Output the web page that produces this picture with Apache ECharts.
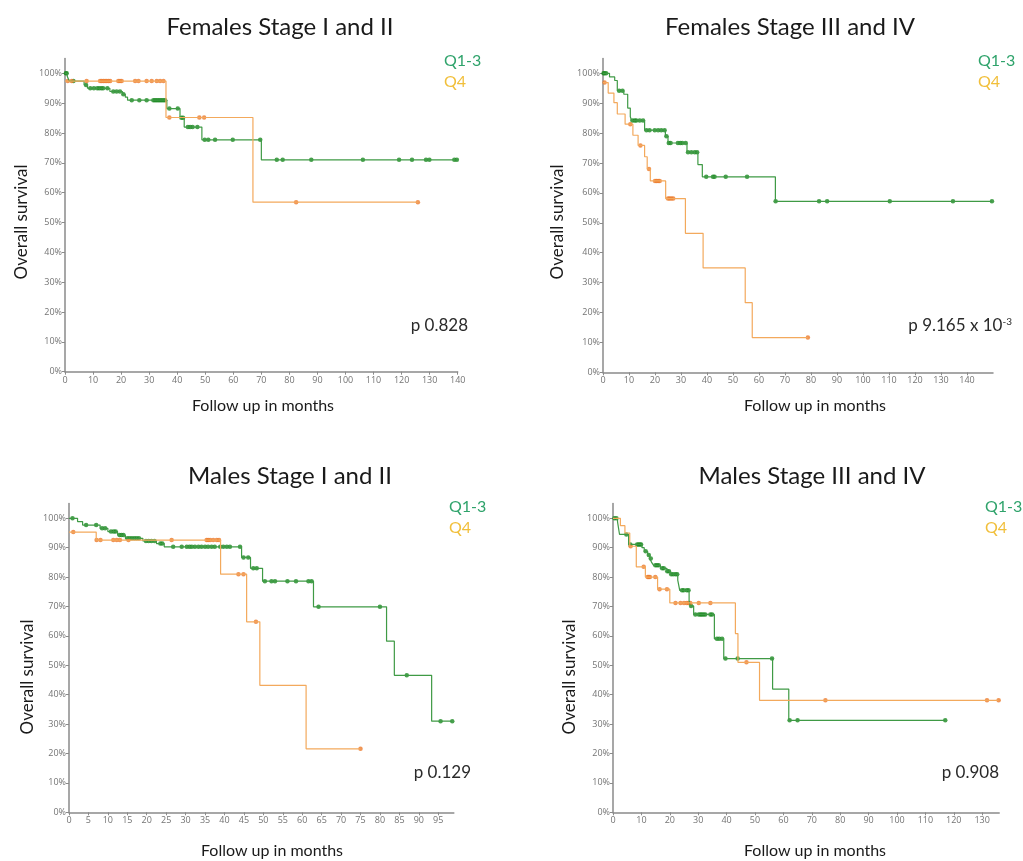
<!DOCTYPE html>
<html>
<head>
<meta charset="utf-8">
<title>Overall survival by stage and sex</title>
<script src="https://cdn.jsdelivr.net/npm/echarts@6/dist/echarts.min.js"></script>
<style>
  html, body { margin: 0; padding: 0; background: #fff; }
  #chart { width: 1023px; height: 861px; }
</style>
</head>
<body>
<div id="chart"></div>
<script>
// 刻度
const yTicks = [0, 10, 20, 30, 40, 50, 60, 70, 80, 90, 100];
const xTicks140 = [0, 10, 20, 30, 40, 50, 60, 70, 80, 90, 100, 110, 120, 130, 140];
const xTicks95 = [0, 5, 10, 15, 20, 25, 30, 35, 40, 45, 50, 55, 60, 65, 70, 75, 80, 85, 90, 95];
const xTicks130 = [0, 10, 20, 30, 40, 50, 60, 70, 80, 90, 100, 110, 120, 130];

const titles = ['Females Stage I and II', 'Females Stage III and IV', 'Males Stage I and II', 'Males Stage III and IV'];
const pValues = ['p 0.828', 'p 9.165 x 10', 'p 0.129', 'p 0.908'];

// Females Stage I and II  —  [月, 生存率%]
const femEarlyQ13Steps = [[0,100],[0.8,99.0],[1.5,97.4],[6.8,96.1],[8,95.0],[16,93.9],[20.5,93.0],[21.5,92.0],[22.3,91.0],[36.3,88.2],[41,85.1],[42.5,82.0],[48.8,77.7],[70,71.0],[140,71.0]];
const femEarlyQ13Censor = [0.3,0.6,3,7.5,9,10.3,11.5,12.2,13,13.6,15.1,17.2,18.4,19.6,20.8,23.8,26.5,29.1,31.5,32.1,32.7,33.3,33.9,34.5,35.1,35.7,37.2,40.2,41.5,42.1,43.8,44.6,45.5,47.2,49.8,51.1,53.5,59.8,69.6,75.5,77.6,87.8,106.2,119.1,123.7,128.7,129.9,138.8,139.7];
const femEarlyQ4Steps = [[0,97.4],[36,85.2],[67,56.8],[126,56.8]];
const femEarlyQ4Censor = [1,2.4,7.7,12.5,13.1,13.7,14.3,14.9,15.5,16.1,19,19.6,20.2,25,26.2,29.1,30.9,32.7,33.9,35.1,37.2,47.9,49.6,82.4,125.8];

// Females Stage III and IV
const femLateQ13Steps = [[0,100],[2.5,98.8],[4.5,97.6],[5.5,94.2],[8,93.0],[9.5,88.4],[10.5,85.5],[11,84.2],[16,81.0],[24,79.0],[25,76.7],[32.3,73.6],[36.5,69.5],[38.2,65.4],[66.3,57.2],[149.6,57.2]];
const femLateQ13Censor = [0.2,0.6,1.2,6.2,7.5,11.3,12.2,12.8,14.1,15.4,16.7,17.9,19.9,21.2,22.4,23.7,24.4,25.3,26,28.8,29.7,30.5,31.8,32.7,34,35.3,36.2,39.7,42.3,42.9,47.2,55.4,66.4,83.1,86.2,110.3,134.6,149.6];
const femLateQ4Steps = [[0,96.9],[2,93.4],[4.2,90.2],[5.5,86.4],[8.5,83.0],[11.5,79.3],[13.5,75.9],[16,72.1],[17,68.0],[18.2,64.0],[24.1,58.1],[31.7,46.5],[38.5,34.9],[54.7,23.3],[57.4,11.6],[78.8,11.6]];
const femLateQ4Censor = [0.6,10.5,14.4,17.7,20,20.6,21.2,21.8,25,25.6,26.3,27,78.8];

// Males Stage I and II
const maleEarlyQ13Steps = [[0,100],[2.2,98.9],[3.5,97.7],[8,96.6],[10,95.5],[12.5,94.3],[14.5,93.2],[19,92.3],[22.5,91.4],[24.5,90.3],[44.4,86.7],[46.7,83.0],[49.8,78.6],[62.9,69.9],[81.7,58.2],[83.7,46.6],[93.3,31.0],[98.6,31.0]];
const maleEarlyQ13Censor = [0.9,4.4,7,8.5,9.3,10.8,11.5,12,13,13.5,14,15,15.6,16.2,16.8,17.4,18,19.8,20.5,21.2,22,23.5,24,26.8,29,30.3,31,31.6,32.4,33.3,34.1,35,35.8,36.7,37.5,38.9,39.7,40.6,41.4,44,44.9,46.1,47.4,48.3,50.4,52.1,53,56.2,58.4,61.6,62.4,64.2,80,86.9,95.6,98.6];
const maleEarlyQ4Steps = [[0,95.3],[7,92.6],[39,81.0],[45.7,64.8],[49.1,43.2],[61,21.6],[75,21.6]];
const maleEarlyQ4Censor = [1.1,7.1,8.1,11.4,12.3,13.1,15.3,26.4,35.4,35.8,36.3,37.1,38,38.6,43.6,44.9,48.1,75];

// Males Stage III and IV
const maleLateQ13Steps = [[0,100],[1.6,98.8],[2.3,94.5],[5.5,91.1],[10.2,90.0],[11,88.8],[12.2,87.5],[13,86.3],[13.6,85.0],[14.3,84.0],[16.7,83.0],[19,82.0],[20.2,81.0],[22.8,79.0],[23.5,75.5],[26.8,72.0],[27.2,70.2],[28.4,67.3],[35.7,59.0],[39,52.3],[56.2,41.9],[61.9,31.3],[117,31.3]];
const maleLateQ13Censor = [0.5,1.2,4.7,6.1,8.5,9,9.5,9.9,11.5,12.6,13.3,14.9,15.5,16.1,17.3,17.9,19.1,19.7,20.5,21.2,22,22.6,24.3,24.9,26,26.6,27.5,29,30.2,30.8,31.3,31.9,32.5,34.3,34.9,36.6,37.4,38.4,39.6,43.9,56,62.2,65,117];
const maleLateQ4Steps = [[0,100],[2.6,97.5],[4.2,95.0],[5.9,90.5],[8.2,83.5],[11.4,80.0],[15.7,75.9],[20,71.2],[43.1,60.8],[44,51.0],[51.6,38.1],[135.8,38.1]];
const maleLateQ4Censor = [6.2,10.8,12.2,12.6,13,14.9,16.4,19,22,23.8,25,26,26.6,27.2,30.2,34.3,47,74.8,131.7,135.8];

const GREEN_LINE = '#3f9a45';
const GREEN_MARK = '#1c8a22';
const ORANGE_LINE = '#f3a95c';
const ORANGE_MARK = '#ec7a2c';
const FONT = 'Lato';

// 各面板的绘图区（像素）
const panels = [
  { grid: { left: 65, top: 58.4, width: 392.7, height: 313.3 }, xMax: 140, xTicks: xTicks140,
    q13: [femEarlyQ13Steps, femEarlyQ13Censor], q4: [femEarlyQ4Steps, femEarlyQ4Censor] },
  { grid: { left: 603, top: 58.4, width: 390, height: 313.9 }, xMax: 150, xTicks: xTicks140,
    q13: [femLateQ13Steps, femLateQ13Censor], q4: [femLateQ4Steps, femLateQ4Censor] },
  { grid: { left: 69, top: 503.6, width: 384.8, height: 308.7 }, xMax: 99, xTicks: xTicks95,
    q13: [maleEarlyQ13Steps, maleEarlyQ13Censor], q4: [maleEarlyQ4Steps, maleEarlyQ4Censor] },
  { grid: { left: 613, top: 503.6, width: 386.2, height: 308.7 }, xMax: 136, xTicks: xTicks130,
    q13: [maleLateQ13Steps, maleLateQ13Censor], q4: [maleLateQ4Steps, maleLateQ4Censor] }
];

// 删失点落在生存曲线上
function levelAt(steps, t) {
  let s = steps[0][1];
  steps.forEach(p => { if (p[0] <= t) s = p[1]; });
  return s;
}

const axisLineStyle = { lineStyle: { color: '#8a8a8a', width: 1.5 } };
const tickStyle = { lineStyle: { color: '#8a8a8a', width: 1 }, length: 3 };
const labelStyle = { color: '#747474', fontSize: 9, fontFamily: 'Open Sans' };

const grids = [], xAxes = [], yAxes = [], series = [];
panels.forEach((p, i) => {
  grids.push(p.grid);
  xAxes.push({
    type: 'value', gridIndex: i, min: 0, max: p.xMax, splitLine: { show: false },
    axisLine: axisLineStyle,
    axisTick: Object.assign({ customValues: p.xTicks }, tickStyle),
    axisLabel: Object.assign({ customValues: p.xTicks, margin: 4 }, labelStyle)
  });
  yAxes.push({
    type: 'value', gridIndex: i, min: 0, max: 105, splitLine: { show: false },
    axisLine: axisLineStyle,
    axisTick: Object.assign({ customValues: yTicks }, tickStyle),
    axisLabel: Object.assign({ customValues: yTicks, margin: 3, formatter: v => v + '%' }, labelStyle)
  });
  [[p.q13, GREEN_LINE, GREEN_MARK, 'Q1-3'], [p.q4, ORANGE_LINE, ORANGE_MARK, 'Q4']].forEach(([d, lc, mc, name]) => {
    series.push({
      name: name, type: 'line', step: 'end', xAxisIndex: i, yAxisIndex: i,
      data: d[0], showSymbol: false, silent: true,
      lineStyle: { color: lc, width: 1.2 }
    });
    series.push({
      name: name, type: 'scatter', xAxisIndex: i, yAxisIndex: i,
      data: d[1].map(t => [t, levelAt(d[0], t)]),
      symbol: 'circle', symbolSize: 4.5, silent: true,
      itemStyle: { color: mc }
    });
  });
});

// 标题、图例、p 值、坐标轴名称
const textEls = [];
const titlePos = [[280, 27], [790, 27], [290, 476], [812, 476]];
const legendPos = [[444, 61], [978, 61], [449, 507], [985, 507]];
const pPos = [[468, 326], [1012, 326], [471, 773], [999, 773]];
const yNamePos = [[22, 222], [558, 222], [28, 677], [570, 677]];
const xNamePos = [[263, 406], [815, 406], [272, 851], [815, 851]];

titles.forEach((t, i) => {
  textEls.push({ type: 'text', x: titlePos[i][0], y: titlePos[i][1],
    style: { text: t, font: '24px ' + FONT, fill: '#1a1a1a', align: 'center', verticalAlign: 'middle' } });
  textEls.push({ type: 'text', x: legendPos[i][0], y: legendPos[i][1],
    style: { text: 'Q1-3', font: '16px ' + FONT, fill: '#2fa36b', align: 'left', verticalAlign: 'middle' } });
  textEls.push({ type: 'text', x: legendPos[i][0], y: legendPos[i][1] + 21,
    style: { text: 'Q4', font: '16px ' + FONT, fill: '#f1bf3a', align: 'left', verticalAlign: 'middle' } });
  textEls.push({ type: 'text', x: yNamePos[i][0], y: yNamePos[i][1], rotation: Math.PI / 2,
    style: { text: 'Overall survival', font: '17px ' + FONT, fill: '#1a1a1a', align: 'center', verticalAlign: 'middle' } });
  textEls.push({ type: 'text', x: xNamePos[i][0], y: xNamePos[i][1],
    style: { text: 'Follow up in months', font: '16px ' + FONT, fill: '#1a1a1a', align: 'center', verticalAlign: 'middle' } });
  if (i === 1) {
    textEls.push({ type: 'text', x: pPos[i][0], y: pPos[i][1],
      style: { text: '{b|' + pValues[i] + '}{s|-3}', align: 'right', verticalAlign: 'middle',
        rich: { b: { font: '17px ' + FONT, fill: '#2a2a2a' }, s: { font: '10px ' + FONT, fill: '#2a2a2a', verticalAlign: 'top', padding: [0, 0, 8, 0] } } } });
  } else {
    textEls.push({ type: 'text', x: pPos[i][0], y: pPos[i][1],
      style: { text: pValues[i], font: '17px ' + FONT, fill: '#2a2a2a', align: 'right', verticalAlign: 'middle' } });
  }
});

const chart = echarts.init(document.getElementById('chart'));
chart.setOption({
  animation: false,
  backgroundColor: '#fff',
  grid: grids,
  xAxis: xAxes,
  yAxis: yAxes,
  series: series,
  graphic: { elements: textEls }
});
</script>
</body>
</html>
